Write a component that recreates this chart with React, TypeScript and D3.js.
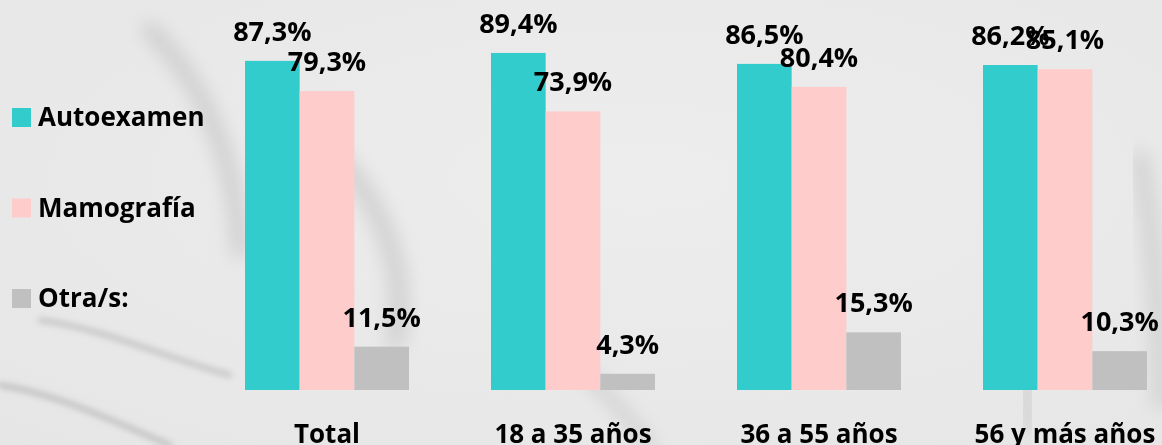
import * as d3 from 'd3';

const categories = ['Total', '18 a 35 años', '36 a 55 años', '56 y más años'];
const seriesNames = ['Autoexamen', 'Mamografía', 'Otra/s:'];
const autoexamen = [87.3, 89.4, 86.5, 86.2];
const mamografia = [79.3, 73.9, 80.4, 85.1];
const otras = [11.5, 4.3, 15.3, 10.3];
const seriesColors = ['#33CCCC', '#FFCCCC', '#C0C0C0'];

const width = 1162;
const height = 445;
const baseY = 390;
const font = "'Open Sans', sans-serif";

export default function App() {
  const values = [autoexamen, mamografia, otras];

  const x0 = d3.scaleBand<string>()
    .domain(categories)
    .range([204, 1188])
    .paddingInner(1 / 3)
    .paddingOuter(1 / 6);

  const x1 = d3.scaleBand<string>()
    .domain(seriesNames)
    .range([0, x0.bandwidth()]);

  const y = d3.scaleLinear().domain([0, 100]).range([baseY, 13]);

  const legendY = d3.scalePoint<string>()
    .domain(seriesNames)
    .range([118, 299]);

  const fmt = (v: number) => `${v.toFixed(1).replace('.', ',')}%`;

  return (
    <svg
      width={width}
      height={height}
      viewBox={`0 0 ${width} ${height}`}
      style={{ position: 'fixed', top: 0, left: 0, display: 'block' }}
    >
      <defs>
        <filter id="blur" x="-30%" y="-30%" width="160%" height="160%">
          <feGaussianBlur stdDeviation="9" />
        </filter>
        <filter id="blur2" x="-20%" y="-20%" width="140%" height="140%">
          <feGaussianBlur stdDeviation="3" />
        </filter>
        <radialGradient id="bg" cx="0.55" cy="0.4" r="0.8">
          <stop offset="0" stopColor="#ededed" />
          <stop offset="1" stopColor="#e6e6e6" />
        </radialGradient>
      </defs>
      <rect x={0} y={0} width={width} height={height} fill="url(#bg)" />

      {/* soft photo-like shading behind the chart */}
      <g fill="none" strokeLinecap="round">
        <path d="M150,30 C200,80 235,150 240,250" stroke="#cdcdcd" strokeWidth={16} filter="url(#blur)" />
        <path d="M40,320 C110,330 170,360 230,375" stroke="#c2c2c2" strokeWidth={5} filter="url(#blur2)" />
        <path d="M0,385 C60,395 110,420 170,445" stroke="#bcbcbc" strokeWidth={5} filter="url(#blur2)" />
        <path d="M330,150 C380,200 410,270 395,340" stroke="#d2d2d2" strokeWidth={20} filter="url(#blur)" />
        <path d="M580,370 C610,395 630,420 650,445" stroke="#cbcbcb" strokeWidth={10} filter="url(#blur)" />
        <path d="M1025,250 C1028,320 1022,380 1030,430" stroke="#c6c6c6" strokeWidth={10} filter="url(#blur)" />
        <path d="M1140,160 C1155,240 1160,320 1162,400" stroke="#d4d4d4" strokeWidth={20} filter="url(#blur)" />
      </g>

      {/* bars */}
      {seriesNames.map((s, si) =>
        categories.map((c, ci) => (
          <rect
            key={`${s}-${c}`}
            x={(x0(c) ?? 0) + (x1(s) ?? 0)}
            y={y(values[si][ci])}
            width={x1.bandwidth()}
            height={baseY - y(values[si][ci])}
            fill={seriesColors[si]}
          />
        ))
      )}

      {/* value labels */}
      {categories.map((c, ci) =>
        seriesNames.map((s, si) => (
          <text
            key={`lbl-${s}-${c}`}
            x={(x0(c) ?? 0) + (x1(s) ?? 0) + x1.bandwidth() / 2}
            y={y(values[si][ci]) - 20}
            textAnchor="middle"
            fontFamily={font}
            fontWeight={700}
            fontSize={27}
            fill="#000"
          >
            {fmt(values[si][ci])}
          </text>
        ))
      )}

      {/* category labels */}
      {categories.map(c => (
        <text
          key={`cat-${c}`}
          x={(x0(c) ?? 0) + x0.bandwidth() / 2}
          y={443}
          textAnchor="middle"
          fontFamily={font}
          fontWeight={700}
          fontSize={26}
          fill="#000"
        >
          {c}
        </text>
      ))}

      {/* legend */}
      {seriesNames.map((s, si) => (
        <g key={`leg-${s}`} transform={`translate(12,${legendY(s) ?? 0})`}>
          <rect x={0} y={-10} width={19} height={19} fill={seriesColors[si]} />
          <text x={26} y={8} fontFamily={font} fontWeight={700} fontSize={26} fill="#000">
            {s}
          </text>
        </g>
      ))}
    </svg>
  );
}
